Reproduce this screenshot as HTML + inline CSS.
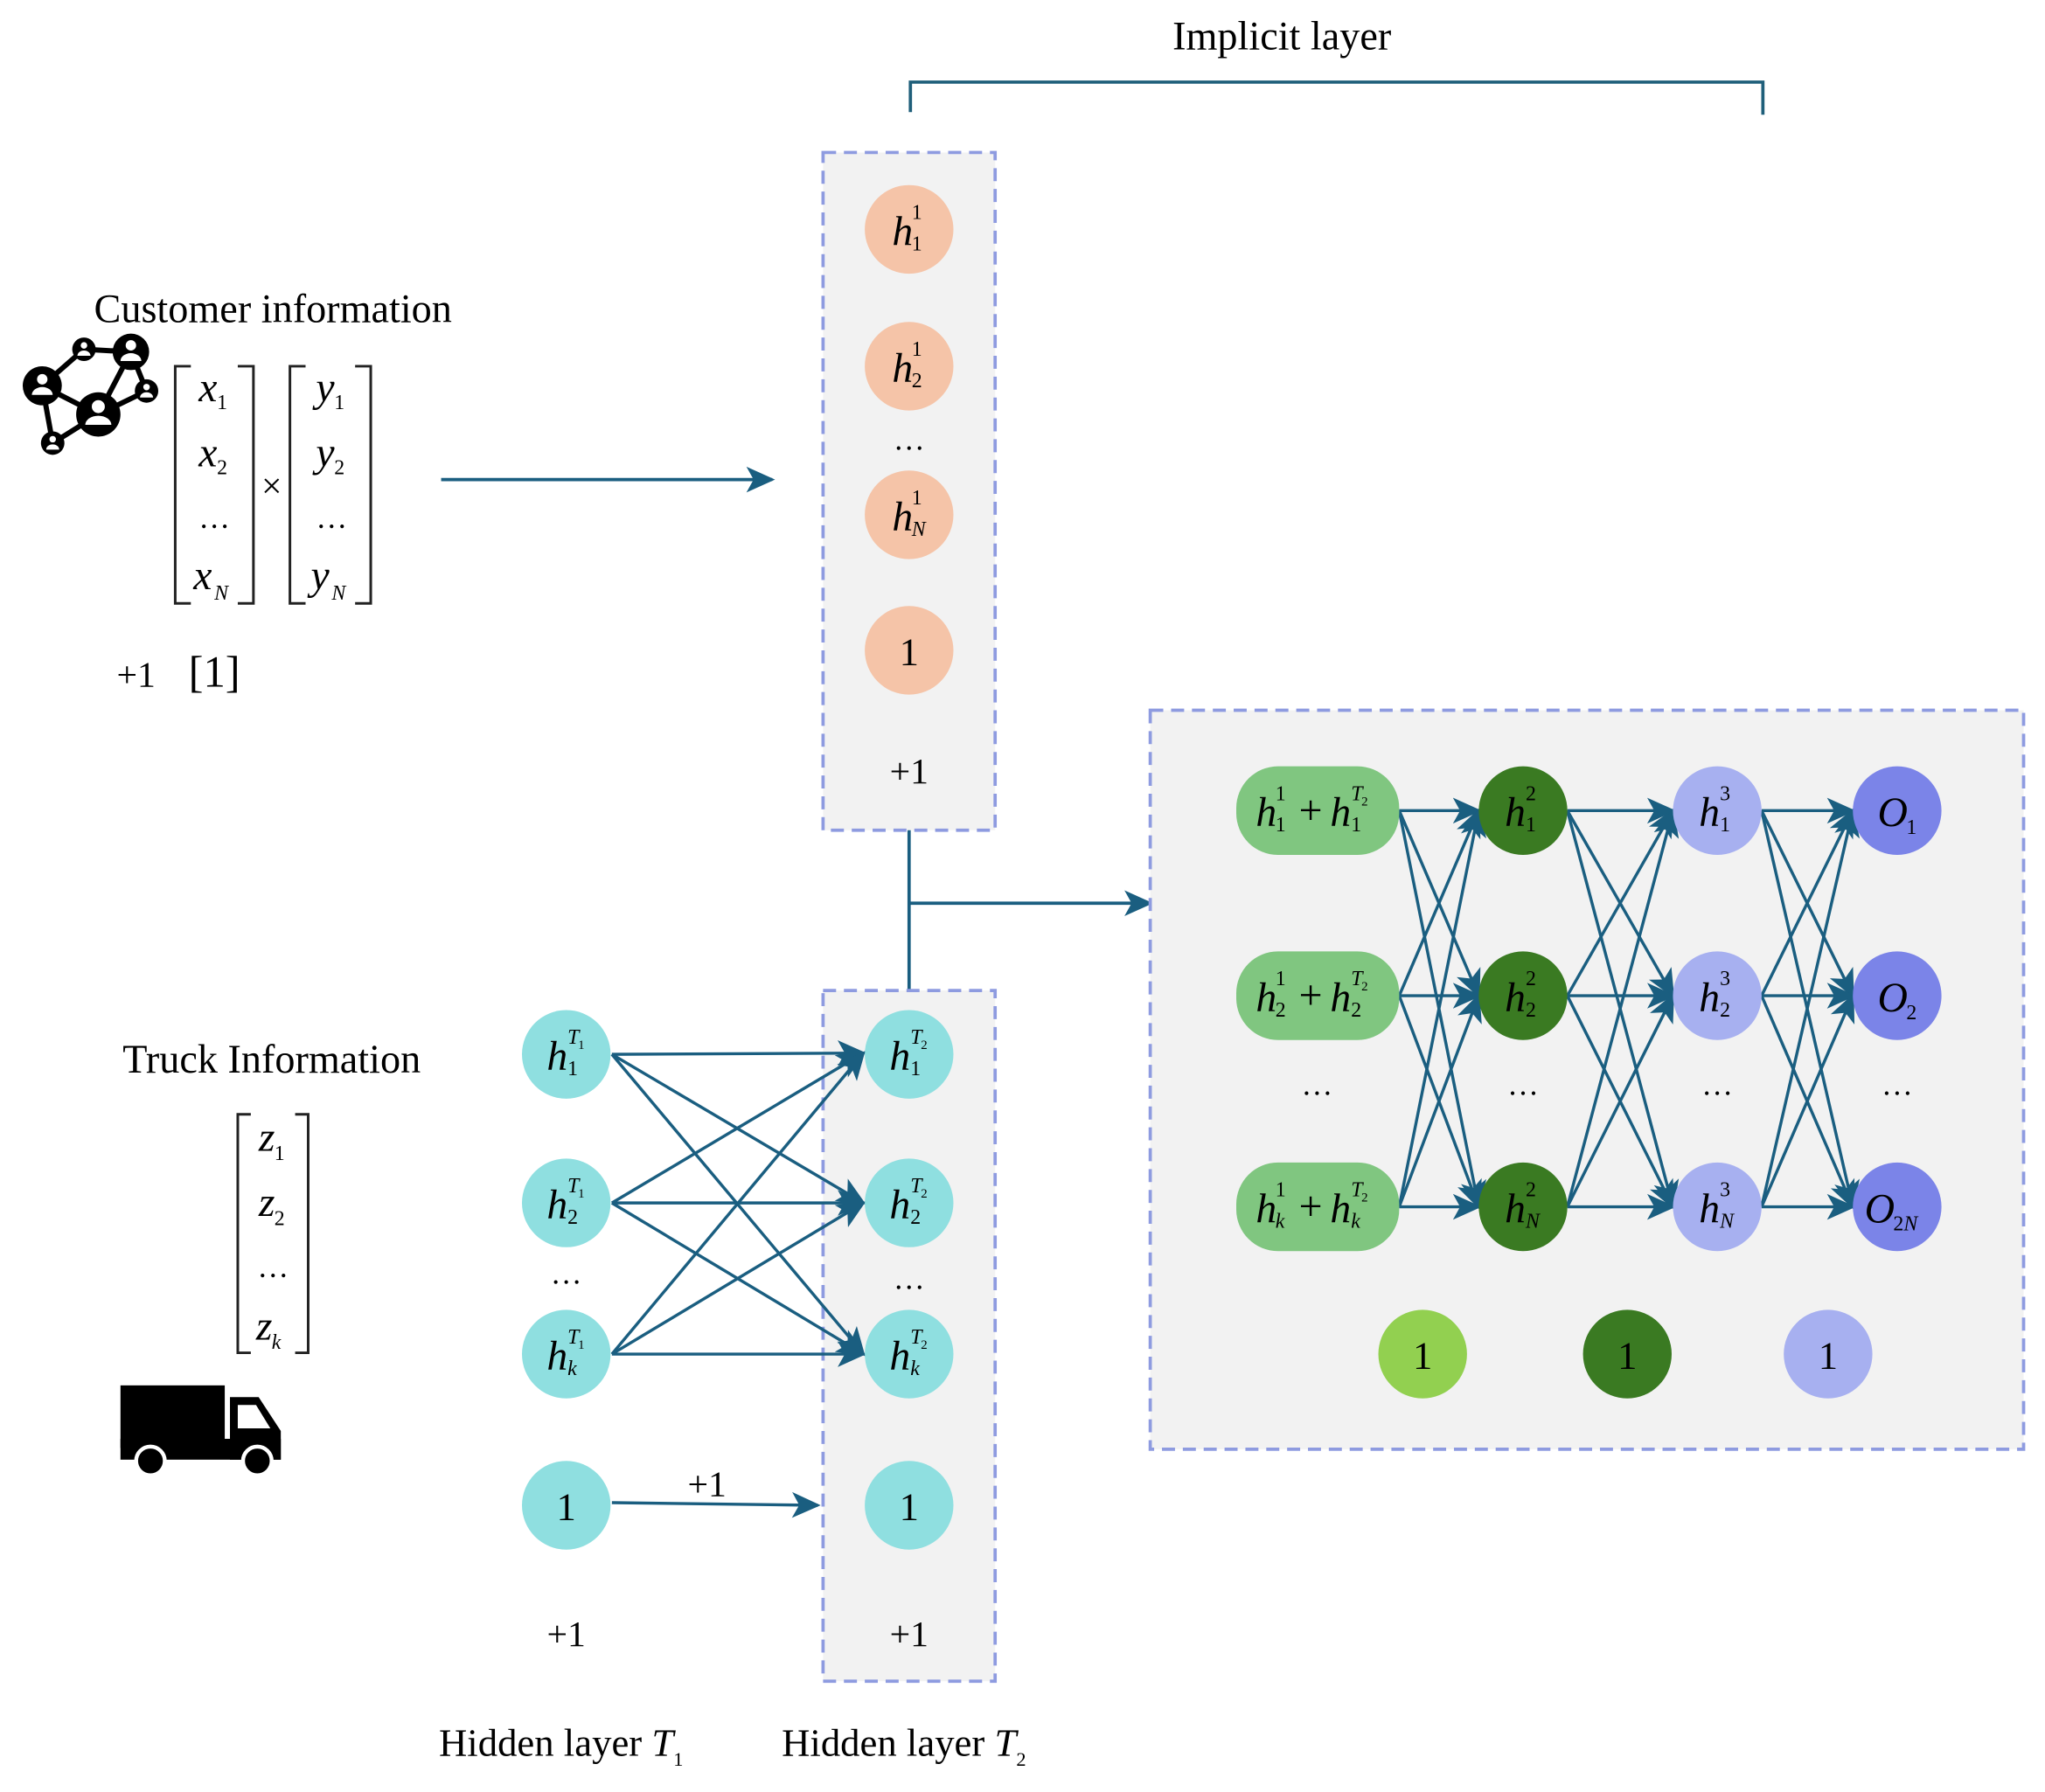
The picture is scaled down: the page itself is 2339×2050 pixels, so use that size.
<!DOCTYPE html>
<html><head><meta charset="utf-8"><style>
html,body{margin:0;padding:0;background:#fff}
svg{display:block}
text{font-family:"Liberation Serif",serif;fill:#000}
.i{font-style:italic}
.h{font-style:italic;font-size:32px}
.s{font-size:16px}
</style></head><body>
<svg width="2339" height="2050" viewBox="0 0 1568 1375" xmlns="http://www.w3.org/2000/svg">
<defs>
<marker id="b" viewBox="0 0 10 10" refX="9" refY="5" markerWidth="22" markerHeight="22" orient="auto" markerUnits="userSpaceOnUse"><path d="M0,0.5 L10,5 L0,9.5 L2.5,5 z" fill="#1a5e80"/></marker>
</defs>
<rect width="1568" height="1375" fill="#fff"/>
<text x="983" y="38" font-size="31" text-anchor="middle">Implicit layer</text>
<path d="M698,86 V63 H1352 V88" fill="none" stroke="#1f5f7a" stroke-width="2.5"/>

<text x="209" y="247" font-size="31" text-anchor="middle">Customer information</text>
<g stroke="#000" stroke-width="4" fill="none">
<path d="M32,296 L64,268 L100,270 L75,318 L32,296 M100,270 L112,300 L75,318 L40,340 L32,296"/>
</g>
<g fill="#000">
<circle cx="32" cy="296" r="15"/><circle cx="64" cy="268" r="9"/><circle cx="100" cy="270" r="14"/>
<circle cx="112" cy="300" r="9"/><circle cx="75" cy="318" r="17"/><circle cx="40" cy="340" r="9"/>
</g>
<g fill="#fff">
<circle cx="32" cy="291" r="4"/><path d="M24,303 a8,6 0 0 1 16,0z"/>
<circle cx="100" cy="265" r="4"/><path d="M92,277 a8,6 0 0 1 16,0z"/>
<circle cx="75" cy="312" r="5"/><path d="M65,326 a10,7 0 0 1 20,0z"/>
<circle cx="64" cy="265" r="2.5"/><path d="M59,273 a5,4 0 0 1 10,0z"/>
<circle cx="112" cy="297" r="2.5"/><path d="M107,305 a5,4 0 0 1 10,0z"/>
<circle cx="40" cy="337" r="2.5"/><path d="M35,345 a5,4 0 0 1 10,0z"/>
</g>
<g fill="none" stroke="#222" stroke-width="2">
<path d="M146,281 H134 V463 H146 M182,281 H194 V463 H182"/>
<path d="M234,281 H222 V463 H234 M272,281 H284 V463 H272"/>
<path d="M192,855 H182 V1038 H192 M226,855 H236 V1038 H226"/>
</g>
<text x="152" y="308" class="h" font-size="28">x</text><text x="166" y="314" class="s">1</text>
<text x="152" y="358" class="h" font-size="28">x</text><text x="166" y="364" class="s">2</text>
<text x="164" y="405" font-size="24" text-anchor="middle">…</text>
<text x="148" y="452" class="h" font-size="28">x</text><text x="164" y="460" class="s i">N</text>
<text x="208" y="382" font-size="28" text-anchor="middle">×</text>
<text x="242" y="308" class="h" font-size="28">y</text><text x="256" y="314" class="s">1</text>
<text x="242" y="358" class="h" font-size="28">y</text><text x="256" y="364" class="s">2</text>
<text x="254" y="405" font-size="24" text-anchor="middle">…</text>
<text x="238" y="452" class="h" font-size="28">y</text><text x="254" y="460" class="s i">N</text>
<text x="104" y="527" font-size="28" text-anchor="middle">+1</text>
<text x="164" y="527" font-size="34" text-anchor="middle">[1]</text>
<line x1="338" y1="368" x2="592" y2="368" stroke="#1a5e80" stroke-width="2.5" marker-end="url(#b)"/>

<rect x="631" y="117" width="132" height="520" fill="#f2f2f2" stroke="#8e9be0" stroke-width="2.5" stroke-dasharray="10,6"/>
<g fill="#f5c4a8">
<circle cx="697" cy="176" r="34"/><circle cx="697" cy="281" r="34"/><circle cx="697" cy="395" r="34"/><circle cx="697" cy="499" r="34"/>
</g>
<text x="684" y="188" class="h">h</text><text x="699" y="168" class="s">1</text><text x="699" y="192" class="s">1</text>
<text x="684" y="293" class="h">h</text><text x="699" y="273" class="s">1</text><text x="699" y="297" class="s">2</text>
<text x="697" y="345" font-size="24" text-anchor="middle">…</text>
<text x="684" y="407" class="h">h</text><text x="699" y="387" class="s">1</text><text x="699" y="411" class="s i">N</text>
<text x="697" y="510" font-size="30" text-anchor="middle">1</text>
<text x="697" y="601" font-size="28" text-anchor="middle">+1</text>
<path d="M697,637 V760" fill="none" stroke="#1a5e80" stroke-width="2.5"/>
<line x1="697" y1="693" x2="882" y2="693" stroke="#1a5e80" stroke-width="2.5" marker-end="url(#b)"/>

<text x="208" y="823" font-size="31" text-anchor="middle">Truck Information</text>
<text x="198" y="883" class="h" font-size="28">z</text><text x="210" y="890" class="s">1</text>
<text x="198" y="933" class="h" font-size="28">z</text><text x="210" y="940" class="s">2</text>
<text x="209" y="980" font-size="24" text-anchor="middle">…</text>
<text x="196" y="1028" class="h" font-size="28">z</text><text x="208" y="1035" class="s i">k</text>
<g fill="#000">
<rect x="92" y="1063" width="80" height="48"/>
<path d="M176,1072 H198 L215,1098 V1120 H176 z"/>
<rect x="92" y="1104" width="123" height="16"/>
</g>
<path d="M182,1078 H196 L207,1096 H182z" fill="#fff"/>
<g fill="#000" stroke="#fff" stroke-width="3"><circle cx="115" cy="1121" r="11"/><circle cx="197" cy="1121" r="11"/></g>

<rect x="631" y="760" width="132" height="530" fill="#f2f2f2" stroke="#8e9be0" stroke-width="2.5" stroke-dasharray="10,6"/>
<g stroke="#1a5e80" stroke-width="2.3" marker-end="url(#b)">
<line x1="469" y1="809" x2="662" y2="808"/><line x1="469" y1="809" x2="662" y2="923"/><line x1="469" y1="809" x2="662" y2="1039"/>
<line x1="469" y1="923" x2="662" y2="808"/><line x1="469" y1="923" x2="662" y2="923"/><line x1="469" y1="923" x2="662" y2="1039"/>
<line x1="469" y1="1039" x2="662" y2="808"/><line x1="469" y1="1039" x2="662" y2="923"/><line x1="469" y1="1039" x2="662" y2="1039"/>
<line x1="469" y1="1153" x2="627" y2="1155"/>
</g>
<text x="542" y="1148" font-size="28" text-anchor="middle">+1</text>
<g fill="#8fdfe0">
<circle cx="434" cy="809" r="34"/><circle cx="434" cy="923" r="34"/><circle cx="434" cy="1039" r="34"/><circle cx="434" cy="1155" r="34"/>
<circle cx="697" cy="809" r="34"/><circle cx="697" cy="923" r="34"/><circle cx="697" cy="1039" r="34"/><circle cx="697" cy="1155" r="34"/>
</g>
<text x="419" y="821" class="h">h</text><text x="435" y="801" class="s i">T</text><text x="443" y="805" font-size="10">1</text><text x="435" y="825" class="s">1</text>
<text x="419" y="935" class="h">h</text><text x="435" y="915" class="s i">T</text><text x="443" y="919" font-size="10">1</text><text x="435" y="939" class="s">2</text>
<text x="419" y="1051" class="h">h</text><text x="435" y="1031" class="s i">T</text><text x="443" y="1035" font-size="10">1</text><text x="435" y="1055" class="s i">k</text>
<text x="434" y="1166" font-size="30" text-anchor="middle">1</text>
<text x="434" y="985" font-size="24" text-anchor="middle">…</text>
<text x="682" y="821" class="h">h</text><text x="698" y="801" class="s i">T</text><text x="706" y="805" font-size="10">2</text><text x="698" y="825" class="s">1</text>
<text x="682" y="935" class="h">h</text><text x="698" y="915" class="s i">T</text><text x="706" y="919" font-size="10">2</text><text x="698" y="939" class="s">2</text>
<text x="682" y="1051" class="h">h</text><text x="698" y="1031" class="s i">T</text><text x="706" y="1035" font-size="10">2</text><text x="698" y="1055" class="s i">k</text>
<text x="697" y="1166" font-size="30" text-anchor="middle">1</text>
<text x="697" y="989" font-size="24" text-anchor="middle">…</text>
<text x="434" y="1263" font-size="28" text-anchor="middle">+1</text>
<text x="697" y="1263" font-size="28" text-anchor="middle">+1</text>
<text x="430" y="1347" font-size="30" text-anchor="middle">Hidden layer <tspan class="i">T</tspan><tspan font-size="15" dy="8">1</tspan></text>
<text x="693" y="1347" font-size="30" text-anchor="middle">Hidden layer <tspan class="i">T</tspan><tspan font-size="15" dy="8">2</tspan></text>

<rect x="882" y="545" width="670" height="567" fill="#f2f2f2" stroke="#8e9be0" stroke-width="2.5" stroke-dasharray="10,6"/>
<g stroke="#1a5e80" stroke-width="2.3" marker-end="url(#b)">
<line x1="1073" y1="622" x2="1134" y2="622"/><line x1="1073" y1="622" x2="1134" y2="764"/><line x1="1073" y1="622" x2="1134" y2="926"/>
<line x1="1073" y1="764" x2="1134" y2="622"/><line x1="1073" y1="764" x2="1134" y2="764"/><line x1="1073" y1="764" x2="1134" y2="926"/>
<line x1="1073" y1="926" x2="1134" y2="622"/><line x1="1073" y1="926" x2="1134" y2="764"/><line x1="1073" y1="926" x2="1134" y2="926"/>
<line x1="1202" y1="622" x2="1283" y2="622"/><line x1="1202" y1="622" x2="1283" y2="764"/><line x1="1202" y1="622" x2="1283" y2="926"/>
<line x1="1202" y1="764" x2="1283" y2="622"/><line x1="1202" y1="764" x2="1283" y2="764"/><line x1="1202" y1="764" x2="1283" y2="926"/>
<line x1="1202" y1="926" x2="1283" y2="622"/><line x1="1202" y1="926" x2="1283" y2="764"/><line x1="1202" y1="926" x2="1283" y2="926"/>
<line x1="1351" y1="622" x2="1421" y2="622"/><line x1="1351" y1="622" x2="1421" y2="764"/><line x1="1351" y1="622" x2="1421" y2="926"/>
<line x1="1351" y1="764" x2="1421" y2="622"/><line x1="1351" y1="764" x2="1421" y2="764"/><line x1="1351" y1="764" x2="1421" y2="926"/>
<line x1="1351" y1="926" x2="1421" y2="622"/><line x1="1351" y1="926" x2="1421" y2="764"/><line x1="1351" y1="926" x2="1421" y2="926"/>
</g>
<g fill="#80c680">
<rect x="948" y="588" width="125" height="68" rx="32"/><rect x="948" y="730" width="125" height="68" rx="32"/><rect x="948" y="892" width="125" height="68" rx="32"/>
</g>
<g fill="#3a7a22"><circle cx="1168" cy="622" r="34"/><circle cx="1168" cy="764" r="34"/><circle cx="1168" cy="926" r="34"/><circle cx="1248" cy="1039" r="34"/></g>
<g fill="#a7b0f0"><circle cx="1317" cy="622" r="34"/><circle cx="1317" cy="764" r="34"/><circle cx="1317" cy="926" r="34"/><circle cx="1402" cy="1039" r="34"/></g>
<g fill="#7b84e8"><circle cx="1455" cy="622" r="34"/><circle cx="1455" cy="764" r="34"/><circle cx="1455" cy="926" r="34"/></g>
<circle cx="1091" cy="1039" r="34" fill="#92d050"/>
<text x="1091" y="1050" font-size="30" text-anchor="middle">1</text>
<text x="1248" y="1050" font-size="30" text-anchor="middle">1</text>
<text x="1402" y="1050" font-size="30" text-anchor="middle">1</text>
<g font-size="24" text-anchor="middle"><text x="1010" y="840">…</text><text x="1168" y="840">…</text><text x="1317" y="840">…</text><text x="1455" y="840">…</text></g>
<text x="963" y="634" class="h">h</text><text x="978" y="614" class="s">1</text><text x="978" y="638" class="s">1</text>
<text x="996" y="632" font-size="32">+</text>
<text x="1020" y="634" class="h">h</text><text x="1036" y="614" class="s i">T</text><text x="1044" y="618" font-size="10">2</text><text x="1036" y="638" class="s">1</text>
<text x="963" y="776" class="h">h</text><text x="978" y="756" class="s">1</text><text x="978" y="780" class="s">2</text>
<text x="996" y="774" font-size="32">+</text>
<text x="1020" y="776" class="h">h</text><text x="1036" y="756" class="s i">T</text><text x="1044" y="760" font-size="10">2</text><text x="1036" y="780" class="s">2</text>
<text x="963" y="938" class="h">h</text><text x="978" y="918" class="s">1</text><text x="978" y="942" class="s i">k</text>
<text x="996" y="936" font-size="32">+</text>
<text x="1020" y="938" class="h">h</text><text x="1036" y="918" class="s i">T</text><text x="1044" y="922" font-size="10">2</text><text x="1036" y="942" class="s i">k</text>
<text x="1154" y="634" class="h">h</text><text x="1170" y="614" class="s">2</text><text x="1170" y="638" class="s">1</text>
<text x="1154" y="776" class="h">h</text><text x="1170" y="756" class="s">2</text><text x="1170" y="780" class="s">2</text>
<text x="1154" y="938" class="h">h</text><text x="1170" y="918" class="s">2</text><text x="1170" y="942" class="s i">N</text>
<text x="1303" y="634" class="h">h</text><text x="1319" y="614" class="s">3</text><text x="1319" y="638" class="s">1</text>
<text x="1303" y="776" class="h">h</text><text x="1319" y="756" class="s">3</text><text x="1319" y="780" class="s">2</text>
<text x="1303" y="938" class="h">h</text><text x="1319" y="918" class="s">3</text><text x="1319" y="942" class="s i">N</text>
<text x="1440" y="634" class="h">O</text><text x="1462" y="640" class="s">1</text>
<text x="1440" y="776" class="h">O</text><text x="1462" y="782" class="s">2</text>
<text x="1430" y="938" class="h">O</text><text x="1452" y="944" class="s">2<tspan class="i">N</tspan></text>
</svg>
</body></html>
